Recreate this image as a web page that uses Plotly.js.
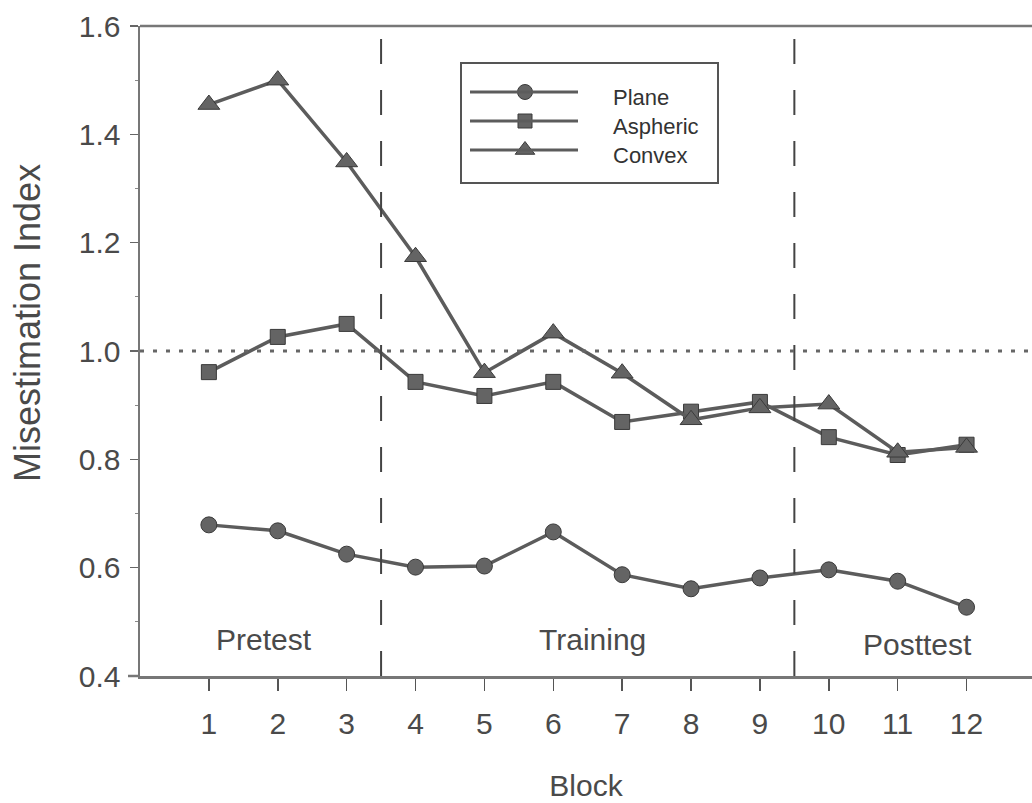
<!DOCTYPE html>
<html>
<head>
<meta charset="utf-8">
<script src="https://cdn.plot.ly/plotly-3.0.1.min.js"></script>
<style>html,body{margin:0;padding:0;background:#fff;}#chart{width:1032px;height:803px;}</style>
</head>
<body>
<div id="chart"></div>
<script>
const blocks = [1,2,3,4,5,6,7,8,9,10,11,12];
const plane    = [0.679,0.668,0.625,0.601,0.603,0.666,0.587,0.561,0.581,0.596,0.575,0.527];
const aspheric = [0.961,1.026,1.050,0.943,0.917,0.943,0.869,0.888,0.906,0.841,0.808,0.827];
const convex   = [1.455,1.500,1.349,1.174,0.960,1.033,0.959,0.873,0.895,0.902,0.813,0.822];
const seriesNames = ["Plane","Aspheric","Convex"];
const phaseLabels = ["Pretest","Training","Posttest"];
const phaseX = [1.8,6.57,11.29];
const phaseY = [0.467,0.467,0.459];
const phaseBounds = [3.5,9.5];
const referenceLevel = 1.0;
const xTicks = blocks;
const yTicks = [0.4,0.6,0.8,1.0,1.2,1.4,1.6];
const xTitle = "Block";
const yTitle = "Misestimation Index";

const lineCol = "#5c5c5c";
const markCol = "#646464";
const font = "Liberation Sans, Arial, sans-serif";
const txtCol = "#4a4a4a";

function tr(y, name, sym, size){
  return {x: blocks, y: y, name: name, type: "scatter", mode: "lines+markers",
    line: {color: lineCol, width: 3.5},
    marker: {symbol: sym, size: size, color: markCol, line: {color: "#3a3a3a", width: 1}},
    showlegend: false, cliponaxis: false};
}
const data = [tr(plane, seriesNames[0], "circle", 16), tr(aspheric, seriesNames[1], "square", 15), tr(convex, seriesNames[2], "triangle-up", 19)];

const legRowsY = [92,121,150];
const shapes = [];
const annotations = [];
shapes.push({type:"line", xref:"paper", yref:"paper", x0:0, x1:1, y0:1, y1:1, line:{color:"#777", width:2.5}});
phaseBounds.forEach(b => shapes.push({type:"line", xref:"x", yref:"y", x0:b, x1:b, y0:0.4, y1:1.58, line:{color:"#444", width:2, dash:"25px,26px"}}));
shapes.push({type:"line", xref:"paper", yref:"y", x0:0, x1:1, y0:referenceLevel, y1:referenceLevel, line:{color:"#666", width:3, dash:"4px,9px"}});
phaseLabels.forEach((t,i) => annotations.push({x: phaseX[i], y: phaseY[i], xref:"x", yref:"y", text: t, showarrow:false, font:{family:font, size:30, color:txtCol}}));

const layout = {
  width: 1032, height: 803,
  margin: {l:140, r:0, t:26, b:127},
  paper_bgcolor: "#fff", plot_bgcolor: "#fff",
  showlegend: false,
  font: {family: font, color: txtCol},
  xaxis: {range:[0.0,12.95], tickvals: xTicks, ticks:"outside", ticklen:12, tickwidth:1.5, tickcolor:"#555",
    showgrid:false, zeroline:false, showline:true, linecolor:"#777", linewidth:2.5,
    tickfont:{family:font, size:30, color:txtCol}, ticklabelstandoff: 7,
    title:{text: xTitle, font:{family:font, size:30, color:txtCol}, standoff: 37}},
  yaxis: {range:[0.4,1.6], tickvals: yTicks, ticktext: yTicks.map(v=>v.toFixed(1)), ticks:"outside", ticklen:8, tickwidth:1.5, tickcolor:"#666",
    minor:{tickvals:[0.5,0.7,0.9,1.1,1.3,1.5], ticks:"outside", ticklen:3, tickcolor:"#888", tickwidth:1},
    showgrid:false, zeroline:false, showline:true, linecolor:"#777", linewidth:2.5,
    tickfont:{family:font, size:30, color:txtCol}, ticklabelstandoff: 3},
  shapes: shapes,
  annotations: annotations
};

Plotly.newPlot("chart", data, layout, {staticPlot:true}).then(gd => {
  const L = gd._fullLayout;
  const px = x => (x - L.margin.l) / L._size.w;
  const py = y => 1 - (y - L.margin.t) / L._size.h;
  const extraShapes = gd.layout.shapes.slice();
  extraShapes.push({type:"line", xref:"paper", yref:"paper", x0:px(128), x1:0, y0:0, y1:0, line:{color:"#777", width:2.5}});
  extraShapes.push({type:"rect", xref:"paper", yref:"paper", x0:px(461), x1:px(718), y0:py(183), y1:py(63), line:{color:"#555", width:2}, fillcolor:"rgba(0,0,0,0)"});
  const syms = ["circle","square","triangle-up"];
  const sizes = [15,14,17];
  const ann = gd.layout.annotations.slice();
  ann.push({xref:"paper", yref:"paper", x:px(27), y:py(323), xanchor:"center", yanchor:"middle", textangle:-90, text:yTitle, showarrow:false, font:{family:font, size:36, color:txtCol}});
  seriesNames.forEach((n,i) => {
    extraShapes.push({type:"line", xref:"paper", yref:"paper", x0:px(470), x1:px(578), y0:py(legRowsY[i]), y1:py(legRowsY[i]), line:{color:lineCol, width:3}});
    ann.push({xref:"paper", yref:"paper", x:px(611), y:py(legRowsY[i]+6), xanchor:"left", yanchor:"middle", text:n, showarrow:false, font:{family:font, size:22, color:"#333"}});
  });
  const tr2 = seriesNames.map((n,i) => ({x:[px(525)], y:[py(legRowsY[i])], xaxis:"x2", yaxis:"y2", type:"scatter", mode:"markers",
    marker:{symbol:syms[i], size:sizes[i], color:markCol, line:{color:"#3a3a3a", width:1}}, showlegend:false, cliponaxis:false}));
  Plotly.addTraces(gd, tr2);
  Plotly.relayout(gd, {shapes: extraShapes, annotations: ann,
    xaxis2:{overlaying:"x", range:[0,1], visible:false, fixedrange:true},
    yaxis2:{overlaying:"y", range:[0,1], visible:false, fixedrange:true}});
});
</script>
</body>
</html>
